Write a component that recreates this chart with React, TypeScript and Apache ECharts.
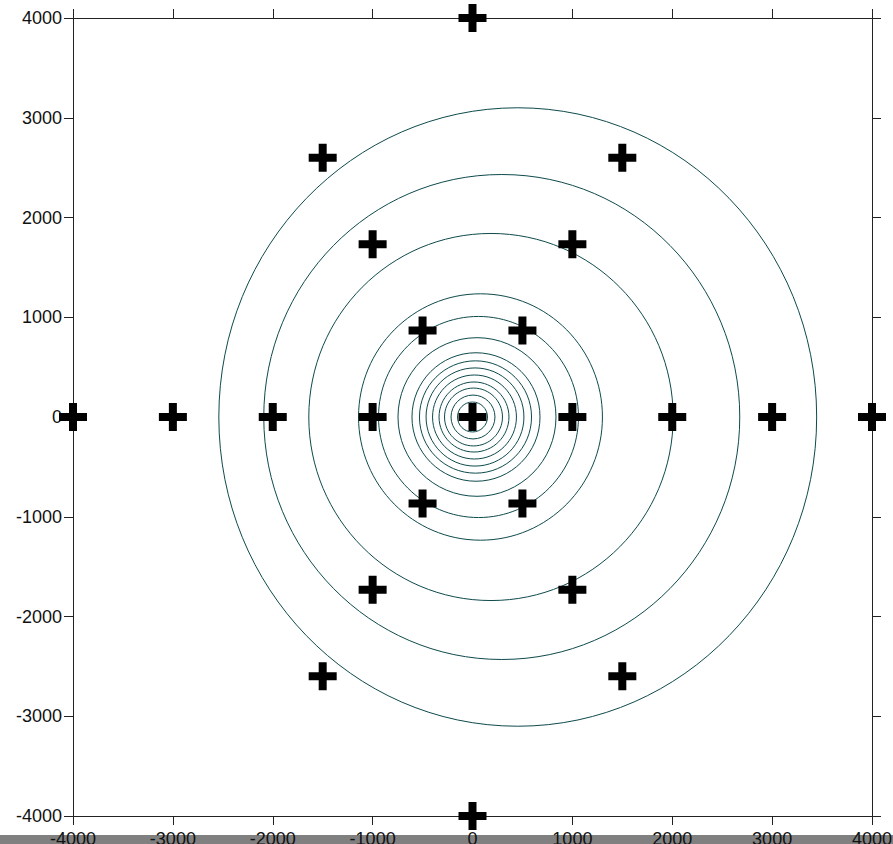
import React, { useEffect, useRef } from "react";
import * as echarts from "echarts";

// Marker positions (data units)
const markerX = [0, 0, -4000, -3000, -2000, -1000, 0, 1000, 2000, 3000, 4000, -1500, 1500, -1500, 1500, -1000, 1000, -1000, 1000, -500, 500, -500, 500];
const markerY = [4000, -4000, 0, 0, 0, 0, 0, 0, 0, 0, 0, 2598, 2598, -2598, -2598, 1732, 1732, -1732, -1732, 866, 866, -866, -866];

// Contour rings: centre and half-axes (data units)
const contourCx = [453, 293, 185, 80, 60, 45, 35, 30, 25, 20, 15, 10, 5, 0];
const contourCy = [0, 0, 0, 0, 0, 0, 0, 0, 0, 0, 0, 0, 0, 0];
const contourRx = [2993, 2383, 1824, 1221, 1001, 791, 641, 561, 490, 420, 350, 290, 220, 150];
const contourRy = [3100, 2431, 1840, 1235, 1008, 795, 644, 563, 492, 421, 351, 290, 220, 150];

const axisTicks = [-4000, -3000, -2000, -1000, 0, 1000, 2000, 3000, 4000];

const CROSS = "path://M2.5,0H4.5V2.5H7V4.5H4.5V7H2.5V4.5H0V2.5H2.5Z";

export default function App() {
  const ref = useRef<HTMLDivElement>(null);
  useEffect(() => {
    if (!ref.current) return;
    const chart = echarts.init(ref.current, null, { renderer: "svg" });
    const lineStyle = { color: "#222", width: 1 };
    const labelFont = {
      fontFamily: "Liberation Sans",
      fontSize: 18,
      color: "#111",
      formatter: (v: number) => String(v),
    };
    const baseAxis = {
      type: "value" as const,
      min: axisTicks[0],
      max: axisTicks[axisTicks.length - 1],
      interval: 1000,
      splitLine: { show: false },
      axisLine: { show: true, onZero: false, lineStyle },
      axisTick: { show: true, inside: false, length: 9, lineStyle },
    };
    chart.setOption({
      animation: false,
      graphic: {
        elements: [
          {
            type: "rect",
            left: 0,
            top: 835,
            z: -100,
            shape: { width: 893, height: 9 },
            style: { fill: "#808080" },
          },
        ],
      },
      grid: {
        left: 73,
        right: 21,
        top: 18,
        bottom: 28,
        containLabel: false,
        outerBoundsMode: "none",
      },
      xAxis: [
        { ...baseAxis, position: "bottom", axisLabel: { ...labelFont, margin: 14 } },
        { ...baseAxis, position: "top", axisLabel: { show: false } },
      ],
      yAxis: [
        { ...baseAxis, position: "left", axisLabel: { ...labelFont, margin: 11 } },
        { ...baseAxis, position: "right", axisLabel: { show: false } },
      ],
      series: [
        {
          type: "custom",
          xAxisIndex: 0,
          yAxisIndex: 0,
          clip: false,
          z: 2,
          data: contourCx.map((cx, i) => [cx, contourCy[i], contourRx[i], contourRy[i]]),
          encode: { x: 0, y: 1 },
          renderItem: (params: any, api: any) => {
            const c = api.coord([api.value(0), api.value(1)]);
            const s = api.size([api.value(2), api.value(3)]);
            return {
              type: "ellipse",
              shape: { cx: c[0], cy: c[1], rx: s[0], ry: s[1] },
              style: { fill: "none", stroke: "#0e4a4c", lineWidth: 1 },
              silent: true,
            };
          },
        },
        {
          type: "scatter",
          xAxisIndex: 0,
          yAxisIndex: 0,
          clip: false,
          z: 5,
          symbol: CROSS,
          symbolSize: 28,
          itemStyle: { color: "#000", opacity: 1 },
          data: markerX.map((x, i) => [x, markerY[i]]),
        },
      ],
    });
    return () => chart.dispose();
  }, []);
  return (
    <div
      ref={ref}
      style={{ position: "fixed", left: 0, top: 0, width: 893, height: 844, background: "#fff" }}
    />
  );
}
